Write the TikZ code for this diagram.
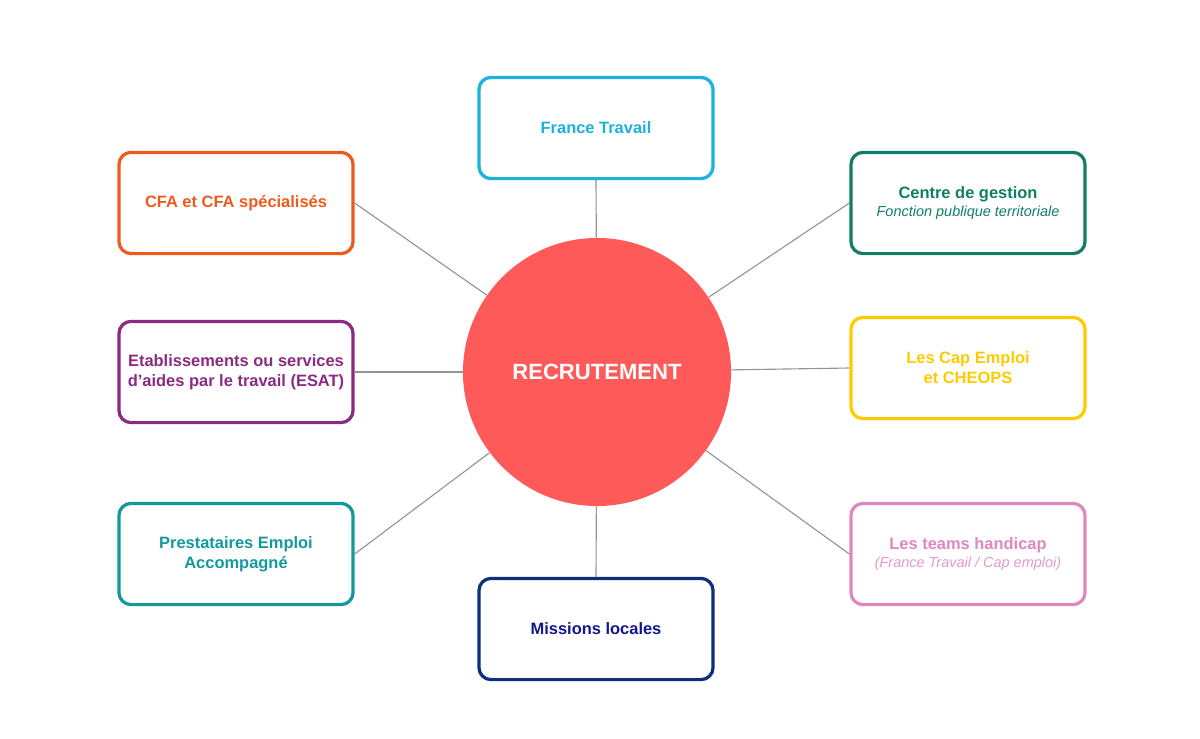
\documentclass[tikz,border=0pt]{standalone}
\usepackage{fontspec}
\setmainfont{Liberation Sans}
\usetikzlibrary{calc}

\definecolor{cfaorange}{HTML}{EE5A1E}
\definecolor{cdggreen}{HTML}{107E63}
\definecolor{esatpurple}{HTML}{8B2A82}
\definecolor{capyellow}{HTML}{FDCB00}
\definecolor{teampink}{HTML}{DE88C0}
\definecolor{mlnavy}{HTML}{0D2F7E}
\definecolor{mltext}{HTML}{13178C}
\definecolor{ftcyan}{HTML}{1BB2DE}
\definecolor{peateal}{HTML}{13999B}
\definecolor{reccoral}{HTML}{FF5A5A}

\newcommand{\subline}{\fontsize{10.3}{12}\selectfont\itshape\mdseries}

\tikzset{
  partner/.style={draw=#1, text=#1, line width=2.3pt, rounded corners=0.3cm,
    minimum width=5.85cm, minimum height=2.53cm, align=center,
    font=\fontsize{11.7}{14.2}\selectfont\bfseries},
  link/.style={draw=black!42, line width=0.8pt}
}

\begin{document}
\begin{tikzpicture}[x=0.025cm, y=-0.025cm]
		%%%%% START %%%%%
		\useasboundingbox (0, 0) rectangle (1200, 738);
		
		\node[circle, fill=reccoral, minimum size=6.7cm, inner sep=0pt, text=white,
		  font=\fontsize{15.7}{18}\selectfont\bfseries] (rec) at (597, 372) {RECRUTEMENT};
		
		\node[partner=ftcyan] (ft) at (596, 128) {France Travail};
		\node[partner=cfaorange] (cfa) at (236, 203) {CFA et CFA spécialisés};
		\node[partner=cdggreen] (cdg) at (968, 203) {Centre de gestion\\[-1.5pt]{\subline Fonction publique territoriale}};
		\node[partner=esatpurple] (esat) at (236, 372) {Etablissements ou services\\d’aides par le travail (ESAT)};
		\node[partner=capyellow] (cap) at (968, 368) {Les Cap Emploi\\et CHEOPS};
		\node[partner=peateal] (pea) at (236, 554) {Prestataires Emploi\\Accompagné};
		\node[partner=teampink] (team) at (968, 554) {Les teams handicap\\[-1.5pt]{\subline\color{teampink!85} (France Travail / Cap emploi)}};
		\node[partner=mlnavy, text=mltext] (ml) at (596, 629) {Missions locales};
		
		\draw[link] (ft.south) -- (rec);
		\draw[link] (cfa.east) -- (rec);
		\draw[link] (cdg.west) -- (rec);
		\draw[link] (esat.east) -- (rec);
		\draw[link] (cap.west) -- (rec);
		\draw[link] (pea.east) -- (rec);
		\draw[link] (team.west) -- (rec);
		\draw[link] (ml.north) -- (rec);
		
		%%%%% END %%%%%
	\end{tikzpicture}
\end{document}
